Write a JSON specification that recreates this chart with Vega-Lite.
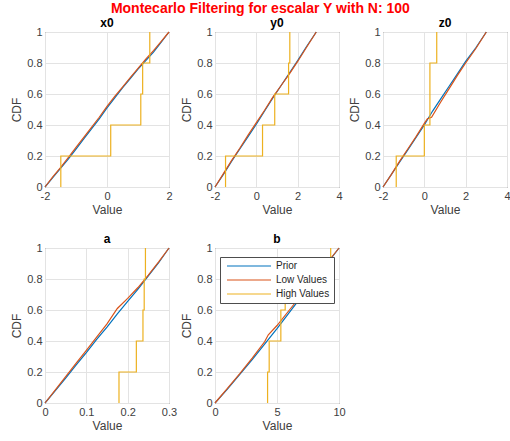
{
  "$schema": "https://vega.github.io/schema/vega-lite/v6.json",
  "background": "white",
  "padding": {"left": 10, "top": 1, "right": 0, "bottom": 0},
  "title": {
    "text": "Montecarlo Filtering for escalar Y with N: 100",
    "color": "#ff0000",
    "fontSize": 14,
    "fontWeight": "bold",
    "font": "Liberation Sans",
    "anchor": "middle",
    "offset": 1
  },
  "data": {
    "values": [
      {"panel": "x0", "series": "Prior", "value": -2, "cdf": 0},
      {"panel": "x0", "series": "Prior", "value": -1.75, "cdf": 0.06},
      {"panel": "x0", "series": "Prior", "value": -1.5, "cdf": 0.12},
      {"panel": "x0", "series": "Prior", "value": -1.25, "cdf": 0.18},
      {"panel": "x0", "series": "Prior", "value": -1, "cdf": 0.245},
      {"panel": "x0", "series": "Prior", "value": -0.75, "cdf": 0.31},
      {"panel": "x0", "series": "Prior", "value": -0.5, "cdf": 0.375},
      {"panel": "x0", "series": "Prior", "value": -0.25, "cdf": 0.44},
      {"panel": "x0", "series": "Prior", "value": 0, "cdf": 0.51},
      {"panel": "x0", "series": "Prior", "value": 0.25, "cdf": 0.575},
      {"panel": "x0", "series": "Prior", "value": 0.5, "cdf": 0.64},
      {"panel": "x0", "series": "Prior", "value": 0.75, "cdf": 0.7},
      {"panel": "x0", "series": "Prior", "value": 1, "cdf": 0.76},
      {"panel": "x0", "series": "Prior", "value": 1.25, "cdf": 0.815},
      {"panel": "x0", "series": "Prior", "value": 1.5, "cdf": 0.87},
      {"panel": "x0", "series": "Prior", "value": 1.75, "cdf": 0.935},
      {"panel": "x0", "series": "Prior", "value": 2, "cdf": 1},
      {"panel": "x0", "series": "Low Values", "value": -2, "cdf": 0},
      {"panel": "x0", "series": "Low Values", "value": -1.75, "cdf": 0.065},
      {"panel": "x0", "series": "Low Values", "value": -1.5, "cdf": 0.125},
      {"panel": "x0", "series": "Low Values", "value": -1.25, "cdf": 0.19},
      {"panel": "x0", "series": "Low Values", "value": -1, "cdf": 0.255},
      {"panel": "x0", "series": "Low Values", "value": -0.75, "cdf": 0.32},
      {"panel": "x0", "series": "Low Values", "value": -0.5, "cdf": 0.385},
      {"panel": "x0", "series": "Low Values", "value": -0.25, "cdf": 0.45},
      {"panel": "x0", "series": "Low Values", "value": 0, "cdf": 0.52},
      {"panel": "x0", "series": "Low Values", "value": 0.25, "cdf": 0.585},
      {"panel": "x0", "series": "Low Values", "value": 0.5, "cdf": 0.645},
      {"panel": "x0", "series": "Low Values", "value": 0.75, "cdf": 0.705},
      {"panel": "x0", "series": "Low Values", "value": 1, "cdf": 0.765},
      {"panel": "x0", "series": "Low Values", "value": 1.25, "cdf": 0.825},
      {"panel": "x0", "series": "Low Values", "value": 1.5, "cdf": 0.88},
      {"panel": "x0", "series": "Low Values", "value": 1.75, "cdf": 0.94},
      {"panel": "x0", "series": "Low Values", "value": 2, "cdf": 1},
      {"panel": "x0", "series": "High Values", "value": -1.49, "cdf": 0},
      {"panel": "x0", "series": "High Values", "value": -1.49, "cdf": 0.2},
      {"panel": "x0", "series": "High Values", "value": 0.12, "cdf": 0.4},
      {"panel": "x0", "series": "High Values", "value": 1.09, "cdf": 0.6},
      {"panel": "x0", "series": "High Values", "value": 1.15, "cdf": 0.8},
      {"panel": "x0", "series": "High Values", "value": 1.38, "cdf": 1},

      {"panel": "y0", "series": "Prior", "value": -2, "cdf": 0},
      {"panel": "y0", "series": "Prior", "value": -1.6, "cdf": 0.08},
      {"panel": "y0", "series": "Prior", "value": -1.2, "cdf": 0.165},
      {"panel": "y0", "series": "Prior", "value": -0.8, "cdf": 0.245},
      {"panel": "y0", "series": "Prior", "value": -0.4, "cdf": 0.325},
      {"panel": "y0", "series": "Prior", "value": 0, "cdf": 0.405},
      {"panel": "y0", "series": "Prior", "value": 0.4, "cdf": 0.49},
      {"panel": "y0", "series": "Prior", "value": 0.8, "cdf": 0.575},
      {"panel": "y0", "series": "Prior", "value": 1.2, "cdf": 0.655},
      {"panel": "y0", "series": "Prior", "value": 1.6, "cdf": 0.735},
      {"panel": "y0", "series": "Prior", "value": 2, "cdf": 0.815},
      {"panel": "y0", "series": "Prior", "value": 2.4, "cdf": 0.9},
      {"panel": "y0", "series": "Prior", "value": 2.9, "cdf": 1},
      {"panel": "y0", "series": "Low Values", "value": -2, "cdf": 0},
      {"panel": "y0", "series": "Low Values", "value": -1.6, "cdf": 0.085},
      {"panel": "y0", "series": "Low Values", "value": -1.2, "cdf": 0.17},
      {"panel": "y0", "series": "Low Values", "value": -0.8, "cdf": 0.25},
      {"panel": "y0", "series": "Low Values", "value": -0.4, "cdf": 0.335},
      {"panel": "y0", "series": "Low Values", "value": 0, "cdf": 0.415},
      {"panel": "y0", "series": "Low Values", "value": 0.4, "cdf": 0.495},
      {"panel": "y0", "series": "Low Values", "value": 0.8, "cdf": 0.58},
      {"panel": "y0", "series": "Low Values", "value": 1.2, "cdf": 0.655},
      {"panel": "y0", "series": "Low Values", "value": 1.6, "cdf": 0.73},
      {"panel": "y0", "series": "Low Values", "value": 2, "cdf": 0.81},
      {"panel": "y0", "series": "Low Values", "value": 2.4, "cdf": 0.895},
      {"panel": "y0", "series": "Low Values", "value": 2.9, "cdf": 1},
      {"panel": "y0", "series": "High Values", "value": -1.49, "cdf": 0},
      {"panel": "y0", "series": "High Values", "value": -1.49, "cdf": 0.2},
      {"panel": "y0", "series": "High Values", "value": 0.3, "cdf": 0.4},
      {"panel": "y0", "series": "High Values", "value": 0.89, "cdf": 0.6},
      {"panel": "y0", "series": "High Values", "value": 1.56, "cdf": 0.8},
      {"panel": "y0", "series": "High Values", "value": 1.62, "cdf": 1},

      {"panel": "z0", "series": "Prior", "value": -2, "cdf": 0},
      {"panel": "z0", "series": "Prior", "value": -1.6, "cdf": 0.08},
      {"panel": "z0", "series": "Prior", "value": -1.2, "cdf": 0.16},
      {"panel": "z0", "series": "Prior", "value": -0.8, "cdf": 0.24},
      {"panel": "z0", "series": "Prior", "value": -0.4, "cdf": 0.32},
      {"panel": "z0", "series": "Prior", "value": 0, "cdf": 0.4},
      {"panel": "z0", "series": "Prior", "value": 0.4, "cdf": 0.49},
      {"panel": "z0", "series": "Prior", "value": 0.8, "cdf": 0.57},
      {"panel": "z0", "series": "Prior", "value": 1.2, "cdf": 0.65},
      {"panel": "z0", "series": "Prior", "value": 1.6, "cdf": 0.73},
      {"panel": "z0", "series": "Prior", "value": 2, "cdf": 0.81},
      {"panel": "z0", "series": "Prior", "value": 2.5, "cdf": 0.9},
      {"panel": "z0", "series": "Prior", "value": 3, "cdf": 1},
      {"panel": "z0", "series": "Low Values", "value": -2, "cdf": 0},
      {"panel": "z0", "series": "Low Values", "value": -1.6, "cdf": 0.08},
      {"panel": "z0", "series": "Low Values", "value": -1.2, "cdf": 0.165},
      {"panel": "z0", "series": "Low Values", "value": -0.8, "cdf": 0.245},
      {"panel": "z0", "series": "Low Values", "value": -0.4, "cdf": 0.325},
      {"panel": "z0", "series": "Low Values", "value": 0, "cdf": 0.41},
      {"panel": "z0", "series": "Low Values", "value": 0.15, "cdf": 0.44},
      {"panel": "z0", "series": "Low Values", "value": 0.35, "cdf": 0.45},
      {"panel": "z0", "series": "Low Values", "value": 0.8, "cdf": 0.55},
      {"panel": "z0", "series": "Low Values", "value": 1.2, "cdf": 0.635},
      {"panel": "z0", "series": "Low Values", "value": 1.6, "cdf": 0.72},
      {"panel": "z0", "series": "Low Values", "value": 2, "cdf": 0.8},
      {"panel": "z0", "series": "Low Values", "value": 2.5, "cdf": 0.895},
      {"panel": "z0", "series": "Low Values", "value": 3, "cdf": 1},
      {"panel": "z0", "series": "High Values", "value": -1.36, "cdf": 0},
      {"panel": "z0", "series": "High Values", "value": -1.36, "cdf": 0.2},
      {"panel": "z0", "series": "High Values", "value": 0, "cdf": 0.4},
      {"panel": "z0", "series": "High Values", "value": 0.27, "cdf": 0.6},
      {"panel": "z0", "series": "High Values", "value": 0.27, "cdf": 0.8},
      {"panel": "z0", "series": "High Values", "value": 0.6, "cdf": 1},

      {"panel": "a", "series": "Prior", "value": 0, "cdf": 0},
      {"panel": "a", "series": "Prior", "value": 0.025, "cdf": 0.08},
      {"panel": "a", "series": "Prior", "value": 0.05, "cdf": 0.16},
      {"panel": "a", "series": "Prior", "value": 0.075, "cdf": 0.245},
      {"panel": "a", "series": "Prior", "value": 0.1, "cdf": 0.325},
      {"panel": "a", "series": "Prior", "value": 0.125, "cdf": 0.41},
      {"panel": "a", "series": "Prior", "value": 0.15, "cdf": 0.49},
      {"panel": "a", "series": "Prior", "value": 0.175, "cdf": 0.575},
      {"panel": "a", "series": "Prior", "value": 0.2, "cdf": 0.655},
      {"panel": "a", "series": "Prior", "value": 0.225, "cdf": 0.735},
      {"panel": "a", "series": "Prior", "value": 0.25, "cdf": 0.82},
      {"panel": "a", "series": "Prior", "value": 0.275, "cdf": 0.905},
      {"panel": "a", "series": "Prior", "value": 0.3, "cdf": 1},
      {"panel": "a", "series": "Low Values", "value": 0, "cdf": 0},
      {"panel": "a", "series": "Low Values", "value": 0.025, "cdf": 0.085},
      {"panel": "a", "series": "Low Values", "value": 0.05, "cdf": 0.17},
      {"panel": "a", "series": "Low Values", "value": 0.075, "cdf": 0.255},
      {"panel": "a", "series": "Low Values", "value": 0.1, "cdf": 0.34},
      {"panel": "a", "series": "Low Values", "value": 0.125, "cdf": 0.425},
      {"panel": "a", "series": "Low Values", "value": 0.15, "cdf": 0.51},
      {"panel": "a", "series": "Low Values", "value": 0.175, "cdf": 0.61},
      {"panel": "a", "series": "Low Values", "value": 0.2, "cdf": 0.675},
      {"panel": "a", "series": "Low Values", "value": 0.225, "cdf": 0.745},
      {"panel": "a", "series": "Low Values", "value": 0.25, "cdf": 0.825},
      {"panel": "a", "series": "Low Values", "value": 0.275, "cdf": 0.91},
      {"panel": "a", "series": "Low Values", "value": 0.3, "cdf": 1},
      {"panel": "a", "series": "High Values", "value": 0.179, "cdf": 0},
      {"panel": "a", "series": "High Values", "value": 0.179, "cdf": 0.2},
      {"panel": "a", "series": "High Values", "value": 0.221, "cdf": 0.4},
      {"panel": "a", "series": "High Values", "value": 0.237, "cdf": 0.6},
      {"panel": "a", "series": "High Values", "value": 0.24, "cdf": 0.8},
      {"panel": "a", "series": "High Values", "value": 0.243, "cdf": 1},

      {"panel": "b", "series": "Prior", "value": 0, "cdf": 0},
      {"panel": "b", "series": "Prior", "value": 1, "cdf": 0.09},
      {"panel": "b", "series": "Prior", "value": 2, "cdf": 0.185},
      {"panel": "b", "series": "Prior", "value": 3, "cdf": 0.28},
      {"panel": "b", "series": "Prior", "value": 4, "cdf": 0.38},
      {"panel": "b", "series": "Prior", "value": 5, "cdf": 0.48},
      {"panel": "b", "series": "Prior", "value": 6, "cdf": 0.585},
      {"panel": "b", "series": "Prior", "value": 7, "cdf": 0.69},
      {"panel": "b", "series": "Prior", "value": 8, "cdf": 0.79},
      {"panel": "b", "series": "Prior", "value": 9, "cdf": 0.895},
      {"panel": "b", "series": "Prior", "value": 10, "cdf": 1},
      {"panel": "b", "series": "Low Values", "value": 0, "cdf": 0},
      {"panel": "b", "series": "Low Values", "value": 1, "cdf": 0.095},
      {"panel": "b", "series": "Low Values", "value": 2, "cdf": 0.19},
      {"panel": "b", "series": "Low Values", "value": 3, "cdf": 0.29},
      {"panel": "b", "series": "Low Values", "value": 4, "cdf": 0.395},
      {"panel": "b", "series": "Low Values", "value": 4.3, "cdf": 0.44},
      {"panel": "b", "series": "Low Values", "value": 5, "cdf": 0.5},
      {"panel": "b", "series": "Low Values", "value": 6, "cdf": 0.6},
      {"panel": "b", "series": "Low Values", "value": 7, "cdf": 0.7},
      {"panel": "b", "series": "Low Values", "value": 8, "cdf": 0.8},
      {"panel": "b", "series": "Low Values", "value": 9, "cdf": 0.9},
      {"panel": "b", "series": "Low Values", "value": 10, "cdf": 1},
      {"panel": "b", "series": "High Values", "value": 4.24, "cdf": 0},
      {"panel": "b", "series": "High Values", "value": 4.24, "cdf": 0.2},
      {"panel": "b", "series": "High Values", "value": 4.37, "cdf": 0.4},
      {"panel": "b", "series": "High Values", "value": 5.31, "cdf": 0.6},
      {"panel": "b", "series": "High Values", "value": 5.66, "cdf": 0.8},
      {"panel": "b", "series": "High Values", "value": 9.33, "cdf": 1}
    ]
  },
  "columns": 3,
  "spacing": {"row": 16, "column": 2},
  "resolve": {"legend": {"color": "independent"}},
  "concat": [
    {
      "width": 124, "height": 155,
      "title": "x0",
      "transform": [{"filter": "datum.panel === 'x0'"}],
      "encoding": {
        "x": {"field": "value", "type": "quantitative", "scale": {"domain": [-2, 2], "nice": false, "zero": false}, "axis": {"values": [-2, 0, 2], "title": "Value"}},
        "y": {"field": "cdf", "type": "quantitative", "scale": {"domain": [0, 1], "nice": false}, "axis": {"values": [0, 0.2, 0.4, 0.6, 0.8, 1], "title": "CDF"}},
        "color": {"field": "series", "type": "nominal", "scale": {"domain": ["Prior", "Low Values", "High Values"], "range": ["#0072BD", "#D95319", "#EDB120"]}, "legend": null},
        "order": [{"field": "cdf", "type": "quantitative"}, {"field": "value", "type": "quantitative"}]
      },
      "layer": [
        {"transform": [{"filter": "datum.series !== 'High Values'"}], "mark": {"type": "line", "strokeWidth": 1.2}},
        {"transform": [{"filter": "datum.series === 'High Values'"}], "mark": {"type": "line", "interpolate": "step-after", "strokeWidth": 1.2}}
      ]
    },
    {
      "width": 124, "height": 155,
      "title": "y0",
      "transform": [{"filter": "datum.panel === 'y0'"}],
      "encoding": {
        "x": {"field": "value", "type": "quantitative", "scale": {"domain": [-2, 4], "nice": false, "zero": false}, "axis": {"values": [-2, 0, 2, 4], "title": "Value"}},
        "y": {"field": "cdf", "type": "quantitative", "scale": {"domain": [0, 1], "nice": false}, "axis": {"values": [0, 0.2, 0.4, 0.6, 0.8, 1], "title": "CDF"}},
        "color": {"field": "series", "type": "nominal", "scale": {"domain": ["Prior", "Low Values", "High Values"], "range": ["#0072BD", "#D95319", "#EDB120"]}, "legend": null},
        "order": [{"field": "cdf", "type": "quantitative"}, {"field": "value", "type": "quantitative"}]
      },
      "layer": [
        {"transform": [{"filter": "datum.series !== 'High Values'"}], "mark": {"type": "line", "strokeWidth": 1.2}},
        {"transform": [{"filter": "datum.series === 'High Values'"}], "mark": {"type": "line", "interpolate": "step-after", "strokeWidth": 1.2}}
      ]
    },
    {
      "width": 124, "height": 155,
      "title": "z0",
      "transform": [{"filter": "datum.panel === 'z0'"}],
      "encoding": {
        "x": {"field": "value", "type": "quantitative", "scale": {"domain": [-2, 4], "nice": false, "zero": false}, "axis": {"values": [-2, 0, 2, 4], "title": "Value"}},
        "y": {"field": "cdf", "type": "quantitative", "scale": {"domain": [0, 1], "nice": false}, "axis": {"values": [0, 0.2, 0.4, 0.6, 0.8, 1], "title": "CDF"}},
        "color": {"field": "series", "type": "nominal", "scale": {"domain": ["Prior", "Low Values", "High Values"], "range": ["#0072BD", "#D95319", "#EDB120"]}, "legend": null},
        "order": [{"field": "cdf", "type": "quantitative"}, {"field": "value", "type": "quantitative"}]
      },
      "layer": [
        {"transform": [{"filter": "datum.series !== 'High Values'"}], "mark": {"type": "line", "strokeWidth": 1.2}},
        {"transform": [{"filter": "datum.series === 'High Values'"}], "mark": {"type": "line", "interpolate": "step-after", "strokeWidth": 1.2}}
      ]
    },
    {
      "width": 124, "height": 155,
      "title": "a",
      "transform": [{"filter": "datum.panel === 'a'"}],
      "encoding": {
        "x": {"field": "value", "type": "quantitative", "scale": {"domain": [0, 0.3], "nice": false, "zero": false}, "axis": {"values": [0, 0.1, 0.2, 0.3], "title": "Value"}},
        "y": {"field": "cdf", "type": "quantitative", "scale": {"domain": [0, 1], "nice": false}, "axis": {"values": [0, 0.2, 0.4, 0.6, 0.8, 1], "title": "CDF"}},
        "color": {"field": "series", "type": "nominal", "scale": {"domain": ["Prior", "Low Values", "High Values"], "range": ["#0072BD", "#D95319", "#EDB120"]}, "legend": null},
        "order": [{"field": "cdf", "type": "quantitative"}, {"field": "value", "type": "quantitative"}]
      },
      "layer": [
        {"transform": [{"filter": "datum.series !== 'High Values'"}], "mark": {"type": "line", "strokeWidth": 1.2}},
        {"transform": [{"filter": "datum.series === 'High Values'"}], "mark": {"type": "line", "interpolate": "step-after", "strokeWidth": 1.2}}
      ]
    },
    {
      "width": 124, "height": 155,
      "title": "b",
      "transform": [{"filter": "datum.panel === 'b'"}],
      "encoding": {
        "x": {"field": "value", "type": "quantitative", "scale": {"domain": [0, 10], "nice": false, "zero": false}, "axis": {"values": [0, 5, 10], "title": "Value"}},
        "y": {"field": "cdf", "type": "quantitative", "scale": {"domain": [0, 1], "nice": false}, "axis": {"values": [0, 0.2, 0.4, 0.6, 0.8, 1], "title": "CDF"}},
        "color": {
          "field": "series", "type": "nominal",
          "scale": {"domain": ["Prior", "Low Values", "High Values"], "range": ["#0072BD", "#D95319", "#EDB120"]},
          "legend": {
            "title": null,
            "orient": "none",
            "legendX": 5,
            "legendY": 9,
            "fillColor": "white",
            "strokeColor": "#4d4d4d",
            "padding": 4,
            "symbolType": "M-1,0H21",
            "symbolSize": 16,
            "symbolStrokeWidth": 1.2,
            "labelFontSize": 10,
            "labelFont": "Liberation Sans",
            "labelColor": "#262626",
            "labelOffset": 42,
            "rowPadding": 4
          }
        },
        "order": [{"field": "cdf", "type": "quantitative"}, {"field": "value", "type": "quantitative"}]
      },
      "layer": [
        {"transform": [{"filter": "datum.series !== 'High Values'"}], "mark": {"type": "line", "strokeWidth": 1.2}},
        {"transform": [{"filter": "datum.series === 'High Values'"}], "mark": {"type": "line", "interpolate": "step-after", "strokeWidth": 1.2}}
      ]
    }
  ],
  "config": {
    "font": "Liberation Sans",
    "view": {"stroke": "#4d4d4d", "strokeWidth": 1},
    "axis": {
      "grid": true,
      "gridColor": "#e3e3e3",
      "domain": false,
      "ticks": false,
      "labelFont": "Liberation Sans",
      "labelFontSize": 11,
      "labelColor": "#404040",
      "labelPadding": 3,
      "labelFlush": false,
      "labelOverlap": false,
      "labelExpr": "'' + datum.value",
      "titleFont": "Liberation Sans",
      "titleFontSize": 12,
      "titleFontWeight": "normal",
      "titleColor": "#404040"
    },
    "axisX": {"titlePadding": 3},
    "axisY": {"titlePadding": 3},
    "title": {"fontSize": 12, "fontWeight": "bold", "color": "#000000", "offset": -4}
  }
}
